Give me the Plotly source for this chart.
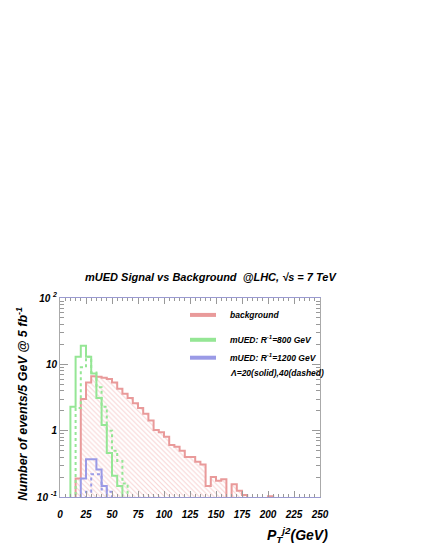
import plotly.graph_objects as go

# ---- data: 5 GeV bins, lower edges 0..245 ----
bin_width = 5
bin_lo = list(range(0, 250, 5))

background = [0, 0, 0, 0.19, 3.0, 5.3, 6.6, 6.5, 6.3, 6.0,
              5.3, 4.3, 3.6, 3.1, 2.6, 2.2, 1.8, 1.42, 1.02, 0.95,
              0.81, 0.61, 0.57, 0.50, 0.40, 0.40, 0.34, 0.31, 0.147, 0.20,
              0.176, 0.185, 0, 0.155, 0.124, 0.107, 0, 0, 0, 0,
              0.103, 0, 0, 0, 0, 0, 0, 0, 0, 0]
green_solid = [0, 0, 2.3, 13.0, 19.0, 13.0, 7.3, 3.1, 1.22, 0.46,
               0.21, 0.147] + [0] * 38
green_dash = [0, 0, 0, 2.2, 9.0, 13.0, 7.5, 4.5, 2.3, 1.0,
              0.5, 0.35, 0.16] + [0] * 37
blue_solid = [0, 0, 0, 0, 0.19, 0.37, 0.37, 0.26, 0.147, 0] + [0] * 40
blue_dash = [0, 0, 0, 0, 0, 0.12, 0.22, 0.22, 0.13, 0.12] + [0] * 40

x_ticks = [0, 25, 50, 75, 100, 125, 150, 175, 200, 225, 250]
y_ticks = [0.1, 1, 10, 100]
y_ticktext = ["10 <sup>-1</sup>", "1", "10", "10 <sup>2</sup>"]
y_minor = [m * d for d in (0.1, 1, 10) for m in range(2, 10)]

legend_labels = ["background", "mUED: R<sup>-1</sup>=800 GeV", "mUED: R<sup>-1</sup>=1200 GeV"]
legend_note = "Λ=20(solid),40(dashed)"

RED = "#e99a9a"
GREEN = "#95e695"
BLUE = "#9a9ae6"
EMPTY = 0.01  # drawn below the axis floor for empty bins

FONT = "Liberation Sans"


def step(vals):
    xs = bin_lo + [bin_lo[-1] + bin_width]
    ys = [v if v > 0 else EMPTY for v in vals]
    ys = ys + [ys[-1]]
    return xs, ys


fig = go.Figure()

# hatched background fill
centers = [b + bin_width / 2 for b in bin_lo]
fig.add_trace(go.Bar(
    x=centers, y=[v if v > 0 else None for v in background], width=bin_width,
    marker=dict(color="rgba(0,0,0,0)", line=dict(width=0),
                pattern=dict(shape="\\", fgcolor="#f0a8a8", bgcolor="rgba(0,0,0,0)",
                             size=3.5, solidity=0.3)),
    showlegend=False, hoverinfo="skip"))

for vals, col, dash in [(background, RED, "solid"),
                        (green_dash, GREEN, "dot"),
                        (green_solid, GREEN, "solid"),
                        (blue_dash, BLUE, "dot"),
                        (blue_solid, BLUE, "solid")]:
    xs, ys = step(vals)
    fig.add_trace(go.Scatter(x=xs, y=ys, mode="lines",
                             line=dict(shape="hv", color=col, width=2, dash=dash),
                             showlegend=False, hoverinfo="skip"))

# legend (manual)
leg_y = [0.915, 0.79, 0.70]
for lab, col, yy in zip(legend_labels, [RED, GREEN, BLUE], leg_y):
    fig.add_shape(type="line", xref="paper", yref="paper",
                  x0=0.5, x1=0.6, y0=yy, y1=yy, line=dict(color=col, width=4))
    fig.add_annotation(xref="paper", yref="paper", x=0.645, y=yy, text=lab,
                       showarrow=False, xanchor="left", yanchor="middle",
                       font=dict(family=FONT, size=8.5, color="black",
                                 weight="bold", style="italic"))
fig.add_annotation(xref="paper", yref="paper", x=0.645, y=0.623, text=legend_note,
                   showarrow=False, xanchor="left", yanchor="middle",
                   font=dict(family=FONT, size=8.5, color="black",
                             weight="bold", style="italic"))

# title
fig.add_annotation(xref="paper", yref="paper", x=0.58, y=1.105,
                   text="mUED Signal vs Background  @LHC, √s = 7 TeV",
                   showarrow=False, xanchor="center", yanchor="middle",
                   font=dict(family=FONT, size=11, color="black",
                             weight="bold", style="italic"))

# axis titles
fig.add_annotation(xref="paper", yref="paper", x=1.04, y=-0.19,
                   text="P<sub>T</sub><sup>j2</sup>(GeV)",
                   showarrow=False, xanchor="right", yanchor="middle",
                   font=dict(family=FONT, size=14, color="black",
                             weight="bold", style="italic"))
fig.add_annotation(xref="paper", yref="paper", x=-0.145, y=0.47,
                   text="Number of events/5 GeV @ 5 fb<sup>-1</sup>",
                   textangle=-90, showarrow=False, xanchor="center", yanchor="middle",
                   font=dict(family=FONT, size=12.5, color="black",
                             weight="bold", style="italic"))

tickfont = dict(family=FONT, size=10, color="black", weight="bold", style="italic")

fig.update_layout(
    width=432, height=559,
    margin=dict(l=60, r=112, t=298, b=62, autoexpand=False),
    paper_bgcolor="white", plot_bgcolor="white",
    bargap=0, barmode="overlay",
    showlegend=False,
    xaxis=dict(range=[0, 250], tickvals=x_ticks, ticks="inside", ticklen=6,
               tickcolor="#999999", mirror="allticks", showline=True,
               linecolor="#9a9ad0", linewidth=1, showgrid=False, zeroline=False,
               tickfont=tickfont, ticklabelstandoff=8, automargin=False,
               minor=dict(dtick=5, ticks="inside", ticklen=3, tickcolor="#999999")),
    yaxis=dict(type="log", range=[-1, 2], tickvals=y_ticks, ticktext=y_ticktext,
               ticks="inside", ticklen=8, tickcolor="#999999", mirror="allticks",
               showline=True, linecolor="#aaaaaa", linewidth=1, showgrid=False,
               zeroline=False, tickfont=tickfont, automargin=False,
               minor=dict(tickvals=y_minor, ticks="inside", ticklen=4,
                          tickcolor="#999999", showgrid=False)),
)

fig.write_html("out.html", config={"displayModeBar": False},
               post_script="document.body.style.margin='0';document.body.style.overflow='hidden';")
